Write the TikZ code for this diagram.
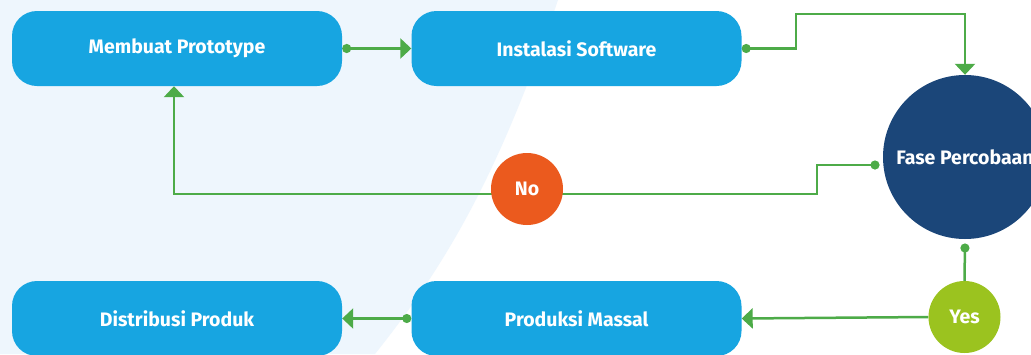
\documentclass[tikz,border=0pt]{standalone}
\usepackage{fontspec}
\setmainfont{Fira Sans}
\usetikzlibrary{arrows.meta}
\pgfdeclarelayer{bg}
\pgfdeclarelayer{conn}
\pgfsetlayers{bg,conn,main}
\definecolor{bgblue}{HTML}{EEF6FD}
\definecolor{boxblue}{HTML}{17A5E1}
\definecolor{darkblue}{HTML}{1B4679}
\definecolor{noorange}{HTML}{EB5A1E}
\definecolor{yesgreen}{HTML}{9BC31F}
\definecolor{linegreen}{HTML}{4DAB48}
\begin{document}
\begin{tikzpicture}[x=1pt,y=-1pt,
  lbl/.style={text=white, font=\bfseries\fontsize{19.5}{23}\selectfont},
  stepbox/.style={lbl, fill=boxblue, rounded corners=25pt, minimum width=330pt, minimum height=75pt, inner sep=0pt},
  bigcirc/.style={lbl, circle, fill=darkblue, minimum size=164pt, inner sep=0pt},
  smallcirc/.style={lbl, circle, minimum size=72pt, inner sep=0pt},
  link/.style={draw=linegreen, line width=2.5pt},
  tipend/.style={-{Triangle[length=11pt,width=20pt]}},
  dotstart/.style={{Circle[length=9pt]}-},
  dotboth/.style={{Circle[length=9pt]}-{Triangle[length=11pt,width=20pt]}}
]
\useasboundingbox (0,0) rectangle (1031,354);
\clip (0,0) rectangle (1031,354);
\begin{pgfonlayer}{bg}
  \fill[white] (0,0) rectangle (1031,354);
  \fill[bgblue] (0,0) -- (558,0) .. controls (500,170) and (450,260) .. (375,354) -- (0,354) -- cycle;
\end{pgfonlayer}

\node[stepbox] (mp) at (177,48.5) {Membuat Prototype};
\node[stepbox] (ins) at (576.5,48.5) {Instalasi Software};
\node[bigcirc] (fase) at (965,157) {Fase Percobaan};
\node[smallcirc, fill=noorange] (no) at (527,189) {No};
\node[smallcirc, fill=yesgreen] (yes) at (964.5,317) {Yes};
\node[stepbox] (pm) at (576.5,318.5) {Produksi Massal};
\node[stepbox] (dp) at (177,318.5) {Distribusi Produk};

\coordinate (fdot) at (879.5,165);
\coordinate (bdot) at (965,243.5);

\begin{pgfonlayer}{conn}
  \draw[link, dotboth] (mp.east) -- (ins.west);
  \draw[link, dotboth] (ins.east) -| (796,14) -| (fase.north);
  \draw[link, dotboth] (fdot) -| (817,194) -| ([xshift=-3pt]mp.south);
  \draw[link, dotstart] (bdot) -- (yes.north);
  \draw[link, tipend] (yes.west) -- (pm.east);
  \draw[link, dotboth] (pm.west) -- (dp.east);
\end{pgfonlayer}
\end{tikzpicture}
\end{document}
